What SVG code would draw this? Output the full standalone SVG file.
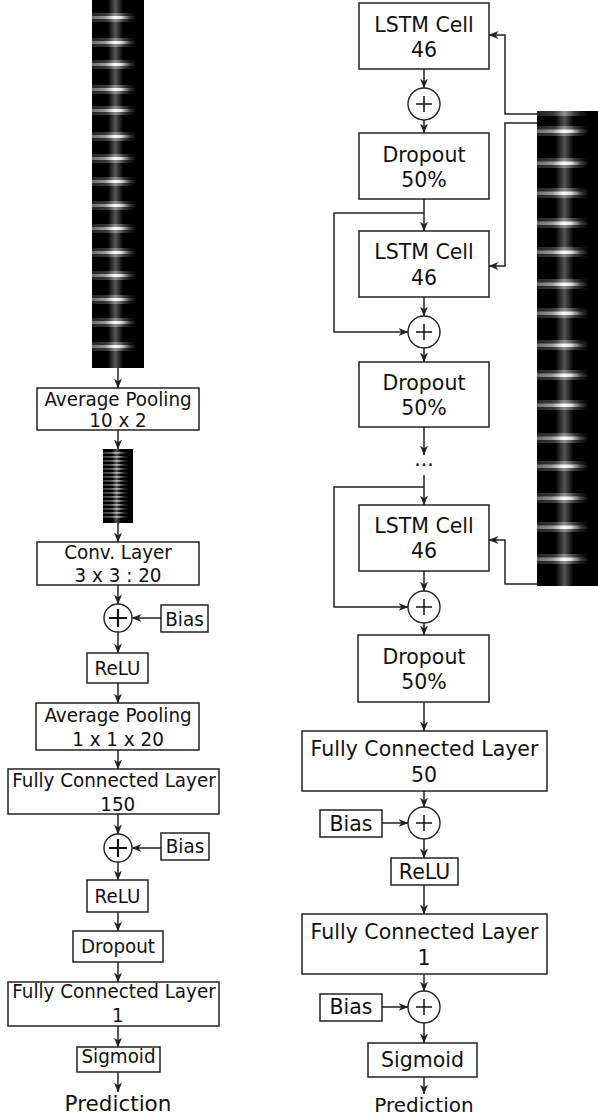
<svg xmlns="http://www.w3.org/2000/svg" width="598" height="1116" viewBox="0 0 598 1116">
<style>
.box{fill:#fff;stroke:#222;stroke-width:1.5}
.t{font-family:"DejaVu Sans",Verdana,sans-serif;fill:#111;text-anchor:middle}
.l{font-size:19.5px}
.r{font-size:20.5px}
.c{fill:#fff;stroke:#222;stroke-width:1.4}
.plus{stroke:#111;stroke-width:1.5;fill:none}
.plusl{stroke:#111;stroke-width:2.2;fill:none}
.w{fill:none;stroke:#222;stroke-width:1.5;marker-end:url(#ah)}
.bd{fill:url(#bandG)}
.gl{fill:url(#bandG);opacity:.35}
.bs{fill:url(#bandG);opacity:.6}
.col{fill:url(#colG);opacity:.8}
</style>
<defs>
<marker id="ah" markerWidth="10" markerHeight="8" refX="9.5" refY="4" orient="auto" markerUnits="userSpaceOnUse">
<path d="M0,0 L10,4 L0,8 L3,4 z" fill="#222"/>
</marker>
<linearGradient id="bandG" x1="0" y1="0" x2="1" y2="0">
<stop offset="0" stop-color="#6a6a6a"/>
<stop offset="0.25" stop-color="#999"/>
<stop offset="0.44" stop-color="#fff"/>
<stop offset="0.56" stop-color="#ddd"/>
<stop offset="0.72" stop-color="#444"/>
<stop offset="0.85" stop-color="#000"/>
<stop offset="1" stop-color="#000"/>
</linearGradient>
<linearGradient id="colG" x1="0" y1="0" x2="1" y2="0">
<stop offset="0" stop-color="#000"/>
<stop offset="0.3" stop-color="#000"/>
<stop offset="0.45" stop-color="#6a6a6a"/>
<stop offset="0.6" stop-color="#000"/>
<stop offset="1" stop-color="#000"/>
</linearGradient>
</defs>

<!-- Left input strip -->
<g id="input-left">
<rect x="92" y="0" width="52" height="368" fill="#000"/>
<rect class="col" x="92" y="0" width="52" height="368"/>
<rect class="gl" x="92" y="13" width="52" height="9"/><rect class="bd" x="92" y="16" width="52" height="3"/>
<rect class="gl" x="92" y="38" width="52" height="9"/><rect class="bd" x="92" y="41" width="52" height="3"/>
<rect class="gl" x="92" y="60" width="52" height="9"/><rect class="bd" x="92" y="63" width="52" height="3"/>
<rect class="gl" x="92" y="85" width="52" height="9"/><rect class="bd" x="92" y="88" width="52" height="3"/>
<rect class="gl" x="92" y="106" width="52" height="9"/><rect class="bd" x="92" y="109" width="52" height="3"/>
<rect class="gl" x="92" y="132" width="52" height="9"/><rect class="bd" x="92" y="135" width="52" height="3"/>
<rect class="gl" x="92" y="154" width="52" height="9"/><rect class="bd" x="92" y="157" width="52" height="3"/>
<rect class="gl" x="92" y="177" width="52" height="9"/><rect class="bd" x="92" y="180" width="52" height="3"/>
<rect class="gl" x="92" y="201" width="52" height="9"/><rect class="bd" x="92" y="204" width="52" height="3"/>
<rect class="gl" x="92" y="224" width="52" height="9"/><rect class="bd" x="92" y="227" width="52" height="3"/>
<rect class="gl" x="92" y="248" width="52" height="9"/><rect class="bd" x="92" y="251" width="52" height="3"/>
<rect class="gl" x="92" y="271" width="52" height="9"/><rect class="bd" x="92" y="274" width="52" height="3"/>
<rect class="gl" x="92" y="295" width="52" height="9"/><rect class="bd" x="92" y="298" width="52" height="3"/>
<rect class="gl" x="92" y="318" width="52" height="9"/><rect class="bd" x="92" y="321" width="52" height="3"/>
<rect class="gl" x="92" y="342" width="52" height="9"/><rect class="bd" x="92" y="345" width="52" height="3"/>
</g>

<!-- Pooled strip -->
<g id="pooled-strip">
<rect x="103" y="449" width="30" height="74" fill="#000"/>
<rect class="col" x="103" y="449" width="30" height="74"/>
<rect class="bs" x="103" y="452" width="30" height="1.8"/>
<rect class="bs" x="103" y="456" width="30" height="1.8"/>
<rect class="bs" x="103" y="460" width="30" height="1.8"/>
<rect class="bs" x="103" y="464" width="30" height="1.8"/>
<rect class="bs" x="103" y="468" width="30" height="1.8"/>
<rect class="bs" x="103" y="472" width="30" height="1.8"/>
<rect class="bs" x="103" y="476" width="30" height="1.8"/>
<rect class="bs" x="103" y="480" width="30" height="1.8"/>
<rect class="bs" x="103" y="484" width="30" height="1.8"/>
<rect class="bs" x="103" y="488" width="30" height="1.8"/>
<rect class="bs" x="103" y="492" width="30" height="1.8"/>
<rect class="bs" x="103" y="496" width="30" height="1.8"/>
<rect class="bs" x="103" y="500" width="30" height="1.8"/>
<rect class="bs" x="103" y="504" width="30" height="1.8"/>
<rect class="bs" x="103" y="508" width="30" height="1.8"/>
<rect class="bs" x="103" y="512" width="30" height="1.8"/>
<rect class="bs" x="103" y="516" width="30" height="1.8"/>
</g>

<!-- Right input strip -->
<g id="input-right">
<rect x="537" y="111" width="61" height="475" fill="#000"/>
<rect class="col" x="537" y="111" width="61" height="475"/>
<rect class="gl" x="537" y="111" width="61" height="5"/>
<rect class="gl" x="537" y="126" width="61" height="10"/><rect class="bd" x="537" y="129.5" width="61" height="3.5"/>
<rect class="gl" x="537" y="158" width="61" height="10"/><rect class="bd" x="537" y="161.5" width="61" height="3.5"/>
<rect class="gl" x="537" y="188" width="61" height="10"/><rect class="bd" x="537" y="191.5" width="61" height="3.5"/>
<rect class="gl" x="537" y="218" width="61" height="10"/><rect class="bd" x="537" y="221.5" width="61" height="3.5"/>
<rect class="gl" x="537" y="247" width="61" height="10"/><rect class="bd" x="537" y="250.5" width="61" height="3.5"/>
<rect class="gl" x="537" y="279" width="61" height="10"/><rect class="bd" x="537" y="282.5" width="61" height="3.5"/>
<rect class="gl" x="537" y="308" width="61" height="10"/><rect class="bd" x="537" y="311.5" width="61" height="3.5"/>
<rect class="gl" x="537" y="340" width="61" height="10"/><rect class="bd" x="537" y="343.5" width="61" height="3.5"/>
<rect class="gl" x="537" y="370" width="61" height="10"/><rect class="bd" x="537" y="373.5" width="61" height="3.5"/>
<rect class="gl" x="537" y="400" width="61" height="10"/><rect class="bd" x="537" y="403.5" width="61" height="3.5"/>
<rect class="gl" x="537" y="433" width="61" height="10"/><rect class="bd" x="537" y="436.5" width="61" height="3.5"/>
<rect class="gl" x="537" y="461" width="61" height="10"/><rect class="bd" x="537" y="464.5" width="61" height="3.5"/>
<rect class="gl" x="537" y="493" width="61" height="10"/><rect class="bd" x="537" y="496.5" width="61" height="3.5"/>
<rect class="gl" x="537" y="522" width="61" height="10"/><rect class="bd" x="537" y="525.5" width="61" height="3.5"/>
<rect class="gl" x="537" y="554" width="61" height="10"/><rect class="bd" x="537" y="557.5" width="61" height="3.5"/>
</g>

<!-- Connectors -->
<g id="connectors">
<path class="w" d="M118,368 V388"/>
<path class="w" d="M118,430 V449"/>
<path class="w" d="M118,523 V542"/>
<path class="w" d="M118,585 V604"/>
<path class="w" d="M161,618 H132"/>
<path class="w" d="M118,632 V653"/>
<path class="w" d="M118,683 V703"/>
<path class="w" d="M118,750 V769"/>
<path class="w" d="M118,814 V834"/>
<path class="w" d="M161,848 H132"/>
<path class="w" d="M118,862 V880"/>
<path class="w" d="M118,912 V931"/>
<path class="w" d="M118,962 V982"/>
<path class="w" d="M118,1026 V1047"/>
<path class="w" d="M118,1072 V1092"/>

<path class="w" d="M424,69 V88"/>
<path class="w" d="M424,120 V133"/>
<path class="w" d="M424,199 V231"/>
<path class="w" d="M424,213 H334 V332 H408"/>
<path class="w" d="M424,297 V316"/>
<path class="w" d="M424,348 V362"/>
<path class="w" d="M424,427 V455"/>
<path class="w" d="M424,475 V505"/>
<path class="w" d="M424,487 H334 V607 H408"/>
<path class="w" d="M424,571 V591"/>
<path class="w" d="M424,623 V635"/>
<path class="w" d="M424,702 V731"/>
<path class="w" d="M424,791 V807"/>
<path class="w" d="M382,823 H408"/>
<path class="w" d="M424,839 V858"/>
<path class="w" d="M424,885 V914"/>
<path class="w" d="M424,974 V991"/>
<path class="w" d="M382,1007 H408"/>
<path class="w" d="M424,1023 V1043"/>
<path class="w" d="M424,1077 V1094"/>

<path class="w" d="M537,114 H505 V35 H489"/>
<path class="w" d="M537,123 H505 V266 H489"/>
<path class="w" d="M537,584 H505 V540 H489"/>
</g>

<!-- Left column nodes (labels are slightly condensed as in the reference) -->
<g id="avgpool1"><rect class="box" x="37" y="388" width="162" height="42"/><g transform="translate(118,0) scale(0.94,1)"><text class="t l" x="0" y="406">Average Pooling</text><text class="t l" x="0" y="427">10 x 2</text></g></g>
<g id="conv"><rect class="box" x="37" y="542" width="162" height="43"/><g transform="translate(118,0) scale(0.94,1)"><text class="t l" x="0" y="559">Conv. Layer</text><text class="t l" x="0" y="582">3 x 3 : 20</text></g></g>
<g id="add1"><circle class="c" cx="118" cy="618" r="14"/><path class="plusl" d="M109,618 H127 M118,609 V627"/></g>
<g id="bias1"><rect class="box" x="161" y="605" width="47" height="27"/><g transform="translate(184.5,0) scale(0.94,1)"><text class="t l" x="0" y="626">Bias</text></g></g>
<g id="relu1"><rect class="box" x="87" y="653" width="61" height="30"/><g transform="translate(117.5,0) scale(0.94,1)"><text class="t l" x="0" y="675">ReLU</text></g></g>
<g id="avgpool2"><rect class="box" x="36" y="703" width="163" height="47"/><g transform="translate(118,0) scale(0.94,1)"><text class="t l" x="0" y="722">Average Pooling</text><text class="t l" x="0" y="746">1 x 1 x 20</text></g></g>
<g id="fc150"><rect class="box" x="8" y="769" width="211" height="45"/><g transform="translate(114,0) scale(0.94,1)"><text class="t l" x="0" y="787">Fully Connected Layer</text><text class="t l" x="4" y="811">150</text></g></g>
<g id="add2"><circle class="c" cx="118" cy="848" r="14"/><path class="plusl" d="M109,848 H127 M118,839 V857"/></g>
<g id="bias2"><rect class="box" x="161" y="833" width="48" height="27"/><g transform="translate(185,0) scale(0.94,1)"><text class="t l" x="0" y="853">Bias</text></g></g>
<g id="relu2"><rect class="box" x="87" y="880" width="61" height="32"/><g transform="translate(117.5,0) scale(0.94,1)"><text class="t l" x="0" y="903">ReLU</text></g></g>
<g id="dropout-l"><rect class="box" x="73" y="931" width="90" height="31"/><g transform="translate(118,0) scale(0.94,1)"><text class="t l" x="0" y="953">Dropout</text></g></g>
<g id="fc1-l"><rect class="box" x="8" y="982" width="211" height="44"/><g transform="translate(114,0) scale(0.94,1)"><text class="t l" x="0" y="998">Fully Connected Layer</text><text class="t l" x="4" y="1022">1</text></g></g>
<g id="sigmoid-l"><rect class="box" x="77" y="1047" width="83" height="25"/><g transform="translate(118.5,0) scale(0.94,1)"><text class="t l" x="0" y="1063">Sigmoid</text></g></g>
<g id="prediction-l"><text class="t" x="118" y="1111" style="font-size:21.5px">Prediction</text></g>

<!-- Right column nodes -->
<g id="lstm1"><rect class="box" x="359" y="3" width="130" height="66"/><text class="t r" x="424" y="32">LSTM Cell</text><text class="t r" x="424" y="57">46</text></g>
<g id="addr1"><circle class="c" cx="424" cy="104" r="16"/><path class="plus" d="M416,104 H432 M424,96 V112"/></g>
<g id="drop1"><rect class="box" x="359" y="133" width="130" height="66"/><text class="t r" x="424" y="162">Dropout</text><text class="t r" x="424" y="187">50%</text></g>
<g id="lstm2"><rect class="box" x="359" y="231" width="130" height="66"/><text class="t r" x="424" y="259">LSTM Cell</text><text class="t r" x="424" y="285">46</text></g>
<g id="addr2"><circle class="c" cx="424" cy="332" r="16"/><path class="plus" d="M416,332 H432 M424,324 V340"/></g>
<g id="drop2"><rect class="box" x="359" y="362" width="130" height="65"/><text class="t r" x="424" y="390">Dropout</text><text class="t r" x="424" y="415">50%</text></g>
<g id="ellipsis"><text class="t r" x="424" y="466">...</text></g>
<g id="lstm3"><rect class="box" x="359" y="505" width="130" height="66"/><text class="t r" x="424" y="533">LSTM Cell</text><text class="t r" x="424" y="558">46</text></g>
<g id="addr3"><circle class="c" cx="424" cy="607" r="16"/><path class="plus" d="M416,607 H432 M424,599 V615"/></g>
<g id="drop3"><rect class="box" x="358" y="635" width="131" height="67"/><text class="t r" x="424" y="664">Dropout</text><text class="t r" x="424" y="689">50%</text></g>
<g id="fc50"><rect class="box" x="302" y="731" width="245" height="60"/><text class="t r" x="424.5" y="756">Fully Connected Layer</text><text class="t r" x="424" y="782">50</text></g>
<g id="addr4"><circle class="c" cx="424" cy="823" r="16"/><path class="plus" d="M416,823 H432 M424,815 V831"/></g>
<g id="biasr1"><rect class="box" x="320" y="810" width="62" height="27"/><text class="t r" x="351" y="831">Bias</text></g>
<g id="relur"><rect class="box" x="391" y="858" width="67" height="27"/><text class="t r" x="424.5" y="879">ReLU</text></g>
<g id="fc1r"><rect class="box" x="302" y="914" width="245" height="60"/><text class="t r" x="424.5" y="939">Fully Connected Layer</text><text class="t r" x="424" y="965">1</text></g>
<g id="addr5"><circle class="c" cx="424" cy="1007" r="16"/><path class="plus" d="M416,1007 H432 M424,999 V1015"/></g>
<g id="biasr2"><rect class="box" x="320" y="994" width="62" height="27"/><text class="t r" x="351" y="1014">Bias</text></g>
<g id="sigmoidr"><rect class="box" x="368" y="1043" width="109" height="34"/><text class="t r" x="422.5" y="1067">Sigmoid</text></g>
<g id="prediction-r"><text class="t" x="424" y="1112" style="font-size:20px">Prediction</text></g>
</svg>
